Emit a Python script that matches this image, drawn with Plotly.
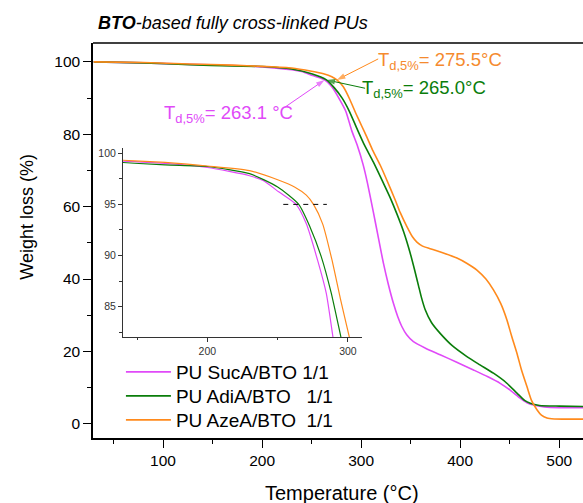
import plotly.graph_objects as go

# ---- TGA curves: temperature (°C) vs residual weight (%) ----
suca_T = [30, 80, 127, 170, 200, 230, 240, 251, 263.1, 270.4, 278.5, 284.6, 290.5, 296, 302, 306.4,
          312.4, 317, 322.5, 327.5, 332.6, 337, 341.1, 346, 352.8, 365, 379.8, 396, 413.4, 428,
          440.4, 451, 460.6, 467, 474, 485, 500, 524]
suca_W = [100, 99.7, 99.3, 99.0, 98.6, 97.8, 97.3, 96.2, 95.0, 93.1, 89.5, 86.3, 81.0, 77.0, 71.6, 66.5,
          58.4, 52.0, 44.4, 38.5, 33.3, 29.6, 26.9, 24.6, 22.7, 20.9, 19.1, 17.1, 14.9, 13.0,
          11.2, 9.2, 7.1, 5.9, 5.2, 4.7, 4.5, 4.5]

adia_T = [30, 80, 127, 170, 200, 230, 250, 265.0, 273, 281, 288, 295.7, 303, 312.4, 322.5, 329.3,
          336.1, 343, 349.5, 354, 357.9, 361, 364.6, 371, 379.8, 392, 406.8, 420, 433.6, 446,
          457.3, 465, 470.7, 480, 500, 524]
adia_W = [100, 99.7, 99.2, 98.85, 98.7, 98.0, 96.7, 95.0, 92.8, 89.9, 86.4, 81.6, 77.2, 72.3, 66.5, 62.5,
          58.0, 53.0, 47.2, 42.5, 38.2, 34.8, 31.6, 28.0, 25.0, 21.6, 18.6, 16.3, 14.0, 11.5,
          8.5, 6.5, 5.7, 5.1, 4.9, 4.8]

azea_T = [30, 80, 127, 170, 200, 230, 250, 262, 270.4, 275.5, 282, 288.6, 294.6, 300.7, 305.8, 312,
          319.2, 326, 334.3, 339.4, 346.2, 352, 356.3, 362, 369.7, 383, 396.7, 407, 416.9, 426,
          433.6, 441, 447.2, 452, 457.3, 462, 467.4, 472, 477.5, 482, 487.6, 495, 510, 524]
azea_W = [100, 99.8, 99.4, 99.1, 98.75, 98.3, 97.4, 96.7, 95.9, 95.0, 93.1, 89.6, 85.8, 82.2, 79.2, 75.4,
          71.5, 67.3, 61.9, 58.4, 54.5, 51.6, 50.2, 49.1, 48.4, 47.2, 45.8, 44.3, 42.5, 40.0,
          37.0, 33.2, 28.7, 24.2, 19.5, 14.8, 10.3, 6.5, 3.9, 2.4, 1.6, 1.35, 1.3, 1.3]

series_names = ["PU SucA/BTO 1/1", "PU AdiA/BTO\u00a0\u00a0 1/1", "PU AzeA/BTO\u00a0 1/1"]
series_colors = ["#E04AF8", "#0A7D0A", "#FF8A1C"]
label_colors = ["#E04AF8", "#0A7D0A", "#F58A2E"]

# 5 % weight-loss temperatures
td5_values = [263.1, 265.0, 275.5]
td5_level = 95
ref_line_T = [254, 285]

# label anchor (left/middle) and arrow start point for each Td,5% callout
label_pos = [(99.0, 85.6, "{:.1f} °C"), (299.2, 92.4, "{:.1f}°C"), (315.5, 100.2, "{:.1f}°C")]
arrow_tail = [(223.2, 87.5), (304.0, 92.7), (317.2, 100.8)]

FONT = "Arial, Liberation Sans, sans-serif"

fig = go.Figure()

curves = [(suca_T, suca_W), (adia_T, adia_W), (azea_T, azea_W)]
legend_ids = ["legend", "legend2", "legend3"]
for (T, W), name, col, lg in zip(curves, series_names, series_colors, legend_ids):
    fig.add_trace(go.Scatter(x=T, y=W, mode="lines", name=name, legend=lg,
                             line=dict(color=col, width=1.6, shape="spline", smoothing=0.6),
                             xaxis="x", yaxis="y"))
for (T, W), col in zip(curves, series_colors):
    fig.add_trace(go.Scatter(x=T, y=W, mode="lines", showlegend=False,
                             line=dict(color=col, width=1.2, shape="spline", smoothing=0.6),
                             xaxis="x2", yaxis="y2"))
fig.add_trace(go.Scatter(x=ref_line_T, y=[td5_level] * 2, mode="lines", showlegend=False,
                         line=dict(color="black", width=1, dash="5px,5px"),
                         xaxis="x2", yaxis="y2"))

# callout arrows: line from the label to the Td,5% point, arrow head at the point
for td, col, (tx, ty) in zip(td5_values, series_colors, arrow_tail):
    fig.add_trace(go.Scatter(x=[tx, td], y=[ty, td5_level], mode="lines+markers",
                             showlegend=False, hoverinfo="skip",
                             line=dict(color=col, width=1),
                             marker=dict(symbol=["circle", "arrow"], size=[0, 9], color=col,
                                         angleref="previous", line=dict(width=0)),
                             xaxis="x", yaxis="y"))

main_axis = dict(showline=True, linecolor="black", linewidth=1.5, ticks="outside",
                 ticklen=8, tickwidth=1.3, tickcolor="black", showgrid=False, zeroline=False,
                 tickfont=dict(family=FONT, size=15.5, color="black"))
inset_axis = dict(showline=True, linecolor="#333", linewidth=1, ticks="outside",
                  ticklen=4, tickwidth=1, tickcolor="#333", showgrid=False, zeroline=False,
                  tickfont=dict(family=FONT, size=10.5, color="#333"))

legend_style = dict(xanchor="left", yanchor="top", bgcolor="rgba(0,0,0,0)",
                    font=dict(family=FONT, size=19, color="black"), itemwidth=45)

fig.update_layout(
    width=583, height=503, autosize=False,
    margin=dict(l=93, r=0, t=43, b=65),
    paper_bgcolor="white", plot_bgcolor="rgba(0,0,0,0)",
    xaxis=dict(main_axis, domain=[0, 1], range=[29.3, 524], tick0=0, dtick=100,
               minor=dict(ticks="outside", ticklen=4, dtick=50, tick0=0, tickcolor="black")),
    yaxis=dict(main_axis, domain=[0, 1], range=[-3.9, 105.2], tick0=0, dtick=20,
               minor=dict(ticks="outside", ticklen=4, dtick=10, tick0=0, tickcolor="black")),
    xaxis2=dict(inset_axis, domain=[0.0612, 0.549], anchor="y2", range=[140, 310],
                tick0=0, dtick=100,
                minor=dict(ticks="outside", ticklen=2.5, dtick=50, tick0=0, tickcolor="#333")),
    yaxis2=dict(inset_axis, domain=[0.2557, 0.734], anchor="x2", range=[82.05, 100.5],
                tick0=0, dtick=5,
                minor=dict(ticks="outside", ticklen=2.5, dtick=2.5, tick0=0, tickcolor="#333")),
    legend=dict(legend_style, x=0.057, y=0.2152),
    legend2=dict(legend_style, x=0.057, y=0.1544),
    legend3=dict(legend_style, x=0.057, y=0.0937),
    showlegend=True,
    shapes=[dict(type="line", xref="paper", yref="paper", x0=0, x1=1, y0=1, y1=1,
                 line=dict(color="black", width=1.5))],
)

annotations = [
    dict(text="<i><b>BTO</b>-based fully cross-linked PUs</i>", xref="paper", yref="paper",
         x=0.006, y=1.0506, xanchor="left", yanchor="middle", showarrow=False,
         font=dict(family=FONT, size=18, color="black")),
    dict(text="Weight loss (%)", xref="paper", yref="paper", x=-0.1353, y=0.5595,
         textangle=-90, xanchor="center", yanchor="middle", showarrow=False,
         font=dict(family=FONT, size=18, color="black")),
    dict(text="Temperature (°C)", xref="paper", yref="paper", x=0.509, y=-0.139,
         xanchor="center", yanchor="middle", showarrow=False,
         font=dict(family=FONT, size=20, color="black")),
]
for td, col, (lx, ly, fmt) in zip(td5_values, label_colors, label_pos):
    annotations.append(dict(text="T<sub>d,5%</sub>= " + fmt.format(td), xref="x", yref="y",
                            x=lx, y=ly, xanchor="left", yanchor="middle", showarrow=False,
                            font=dict(family=FONT, size=18.5, color=col)))

fig.update_layout(annotations=annotations)

fig.write_html("out.html")
